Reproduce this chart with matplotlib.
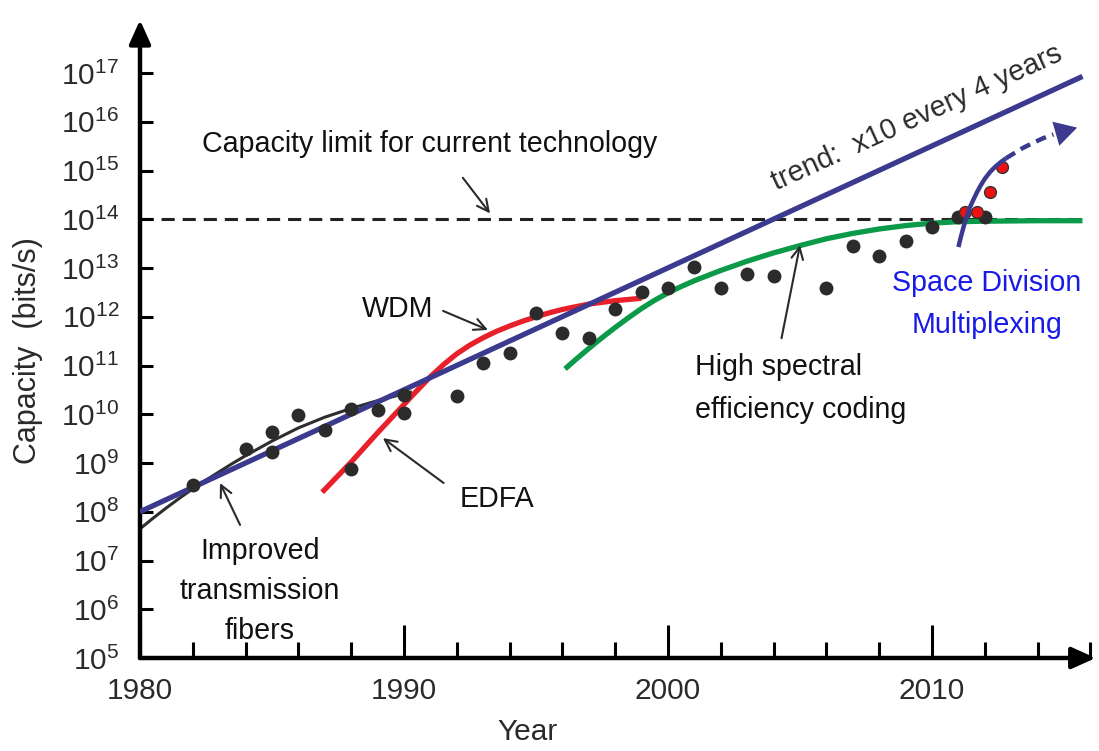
import matplotlib
matplotlib.use('Agg')
import matplotlib.pyplot as plt
from matplotlib.ticker import MultipleLocator, NullLocator, FixedLocator
import numpy as np

plt.rcParams['font.family'] = ['Liberation Sans', 'DejaVu Sans']
plt.rcParams['mathtext.fontset'] = 'custom'
plt.rcParams['mathtext.rm'] = 'Liberation Sans'

# ---- data (capacity as log10 of bits/s) ----
dot_years = [1982, 1984, 1985, 1985, 1986, 1987, 1988, 1988, 1989, 1990, 1990,
             1992, 1993, 1994, 1995, 1996, 1997, 1998, 1999, 2000, 2001, 2002,
             2003, 2004, 2006, 2007, 2008, 2009, 2010, 2011, 2012]
dot_log = [8.55, 9.29, 9.64, 9.23, 9.98, 9.68, 10.10, 8.87, 10.09, 10.40, 10.03,
           10.37, 11.05, 11.26, 12.08, 11.67, 11.56, 12.16, 12.51, 12.59, 13.02, 12.59,
           12.88, 12.84, 12.59, 13.45, 13.25, 13.55, 13.84, 14.05, 14.05]

sdm_years = [2011.25, 2011.7, 2012.2, 2012.65]
sdm_log = [14.15, 14.15, 14.56, 15.07]

fiber_years = [1980, 1980.5, 1981, 1981.5, 1982, 1982.5, 1983, 1983.5, 1984, 1985,
               1986, 1987, 1988, 1989, 1990, 1990.3]
fiber_log = [7.65, 7.87, 8.08, 8.28, 8.47, 8.65, 8.82, 8.99, 9.15, 9.45,
             9.72, 9.94, 10.12, 10.28, 10.42, 10.46]

edfa_years = [1986.9, 1988, 1989, 1990, 1990.5, 1991, 1991.5, 1992, 1992.5, 1993,
              1993.5, 1994, 1994.5, 1995, 1995.5, 1996, 1997, 1998, 1999]
edfa_log = [8.40, 9.02, 9.62, 10.20, 10.49, 10.77, 11.02, 11.24, 11.42, 11.57,
            11.70, 11.81, 11.91, 12.00, 12.08, 12.15, 12.26, 12.33, 12.38]

coding_years = [1996.1, 1996.5, 1997, 1997.5, 1998, 1998.5, 1999, 1999.5, 2000, 2000.5,
                2001, 2002, 2003, 2004, 2005, 2006, 2007, 2008, 2009, 2010, 2011,
                2012, 2014, 2015.7]
coding_log = [10.93, 11.12, 11.35, 11.57, 11.78, 11.98, 12.17, 12.34, 12.49, 12.62,
              12.74, 12.95, 13.14, 13.31, 13.46, 13.60, 13.71, 13.80, 13.87, 13.92, 13.95,
              13.96, 13.97, 13.97]

trend_years = [1980, 2015.7]
trend_log = [8.0, 16.93]

limit_years = [1980, 2015.7]
limit_log = [14.0, 14.0]

sdm_solid_years = [2011.0, 2011.1, 2011.2, 2011.3, 2011.4, 2011.55, 2011.7, 2011.85,
                   2012.0, 2012.2, 2012.4, 2012.6, 2012.8]
sdm_solid_log = [13.43, 13.65, 13.85, 14.03, 14.20, 14.38, 14.55, 14.70,
                 14.83, 14.97, 15.08, 15.17, 15.25]
sdm_dash_years = [2012.8, 2013.4, 2013.8, 2014.2, 2014.6]
sdm_dash_log = [15.25, 15.45, 15.56, 15.66, 15.74]
sdm_tip = (2015.5, 15.88)

year_ticks = [1980, 1990, 2000, 2010]
decade_ticks = list(range(5, 18))

def P(v):
    return 10.0 ** np.asarray(v)

TREND = '#3c3a8e'
RED = '#e8202a'
GREEN = '#0a9a48'
DOT = '#2b2b2b'
TXT = '#111111'

fig = plt.figure(figsize=(10.99, 7.51), dpi=100)
ax = fig.add_axes([140 / 1099, 93 / 751, 955.7 / 1099, 638 / 751])
ax.set_yscale('log')
ax.set_xlim(1980, 1980 + 955.7 / 26.4)
ax.set_ylim(1e5, 10 ** (5 + 638 / 48.75))
for s in ax.spines.values():
    s.set_visible(False)

# axes with arrowheads
for tip in [(1, 0), (0, 1)]:
    ax.annotate('', xy=tip, xytext=(0, 0), xycoords='axes fraction',
                arrowprops=dict(arrowstyle='-|>,head_length=0.8,head_width=0.36',
                                mutation_scale=18, lw=3.2, color='black',
                                shrinkA=0, shrinkB=0), annotation_clip=False)

ax.xaxis.set_major_locator(FixedLocator(year_ticks))
ax.xaxis.set_minor_locator(MultipleLocator(2))
ax.set_xticklabels([str(y) for y in year_ticks])
ax.yaxis.set_major_locator(FixedLocator(P(decade_ticks)))
ax.yaxis.set_minor_locator(NullLocator())
ax.set_yticklabels([r'$\mathregular{10^{%d}}$' % d for d in decade_ticks])
ax.tick_params(axis='x', which='major', direction='in', length=23.8, width=2.2,
               pad=14, labelsize=21.5, labelcolor='#2a2a2a')
ax.tick_params(axis='x', which='minor', direction='in', length=11.5, width=2.2)
ax.tick_params(axis='y', which='major', direction='in', length=9.4, width=2.2,
               pad=15, labelsize=21.5, labelcolor='#2a2a2a')

line_kw = dict(solid_capstyle='butt', solid_joinstyle='round')

# lines
ax.plot(limit_years, P(limit_log), color='#222222', lw=2.2,
        linestyle=(0, (4.3, 2.6)), zorder=1)
ax.plot(fiber_years, P(fiber_log), color='#2e2e2e', lw=2.2, zorder=2, **line_kw)
ax.plot(edfa_years, P(edfa_log), color=RED, lw=3.8, zorder=2, **line_kw)
ax.plot(coding_years, P(coding_log), color=GREEN, lw=3.8, zorder=2, **line_kw)
ax.plot(trend_years, P(trend_log), color=TREND, lw=3.8, zorder=3, **line_kw)

# measured capacities
ax.plot(dot_years, P(dot_log), 'o', color=DOT, ms=10, mec='none', zorder=4)
ax.plot(sdm_years, P(sdm_log), 'o', color='#ee1111', ms=8.5, mec='#333333',
        mew=1.0, zorder=5)

# space division multiplexing arrow
ax.plot(sdm_solid_years, P(sdm_solid_log), color=TREND, lw=3.2, zorder=6, **line_kw)
ax.plot(sdm_dash_years, P(sdm_dash_log), color=TREND, lw=3.2, zorder=6,
        linestyle=(0, (2.4, 1.5)))
ax.annotate('', xy=(sdm_tip[0], P(sdm_tip[1])),
            xytext=(sdm_dash_years[-1], P(sdm_dash_log[-1])),
            arrowprops=dict(arrowstyle='-|>,head_length=0.8,head_width=0.45',
                            mutation_scale=20, lw=0, color=TREND,
                            shrinkA=0, shrinkB=0), zorder=6)

# annotations
FS = 20.6
arrow_kw = dict(arrowstyle='->,head_length=0.6,head_width=0.3', mutation_scale=14,
                lw=1.5, color='#2a2a2a', shrinkA=0, shrinkB=0)

ax.text(1982.35, P(15.38), 'Capacity limit for current technology', fontsize=FS,
        color=TXT, ha='left', va='baseline')
ax.annotate('', xy=(1993.26, P(14.12)), xytext=(1992.23, P(14.85)), arrowprops=arrow_kw)

ax.text(1989.77, P(12.0), 'WDM', fontsize=FS, color=TXT, ha='center', va='baseline')
ax.annotate('', xy=(1993.18, P(11.73)), xytext=(1991.48, P(12.12)), arrowprops=arrow_kw)

ax.text(1993.52, P(8.10), 'EDFA', fontsize=FS, color=TXT, ha='center', va='baseline')
ax.annotate('', xy=(1989.2, P(9.51)), xytext=(1991.5, P(8.59)), arrowprops=arrow_kw)

ax.text(1984.55, P(7.48), 'Improved\ntransmission\nfibers', fontsize=FS, color=TXT,
        ha='center', va='top', linespacing=1.55)
ax.annotate('', xy=(1983.03, P(8.59)), xytext=(1983.79, P(7.73)), arrowprops=arrow_kw)

ax.text(2001.02, P(11.26), 'High spectral\nefficiency coding', fontsize=FS, color=TXT,
        ha='left', va='top', linespacing=1.7)
ax.annotate('', xy=(2005.0, P(13.47)), xytext=(2004.3, P(11.56)), arrowprops=arrow_kw)

ax.text(2012.08, P(12.98), 'Space Division\nMultiplexing', fontsize=FS, color='#1a1ae6',
        ha='center', va='top', linespacing=1.62)

ax.text(2004.1, P(14.58), 'trend:  x10 every 4 years', fontsize=FS, color='#2a2a2a',
        ha='left', va='baseline', rotation=24.5, rotation_mode='anchor')

# axis titles
fig.text(528 / 1099, 1 - 732 / 751, 'Year', fontsize=21.5, color='#2a2a2a',
         ha='center', va='center')
fig.text(28 / 1099, 1 - 351 / 751, 'Capacity  (bits/s)', fontsize=22, color='#2a2a2a',
         ha='center', va='center', rotation=90)

fig.savefig('out.png', dpi=100, facecolor='white')
